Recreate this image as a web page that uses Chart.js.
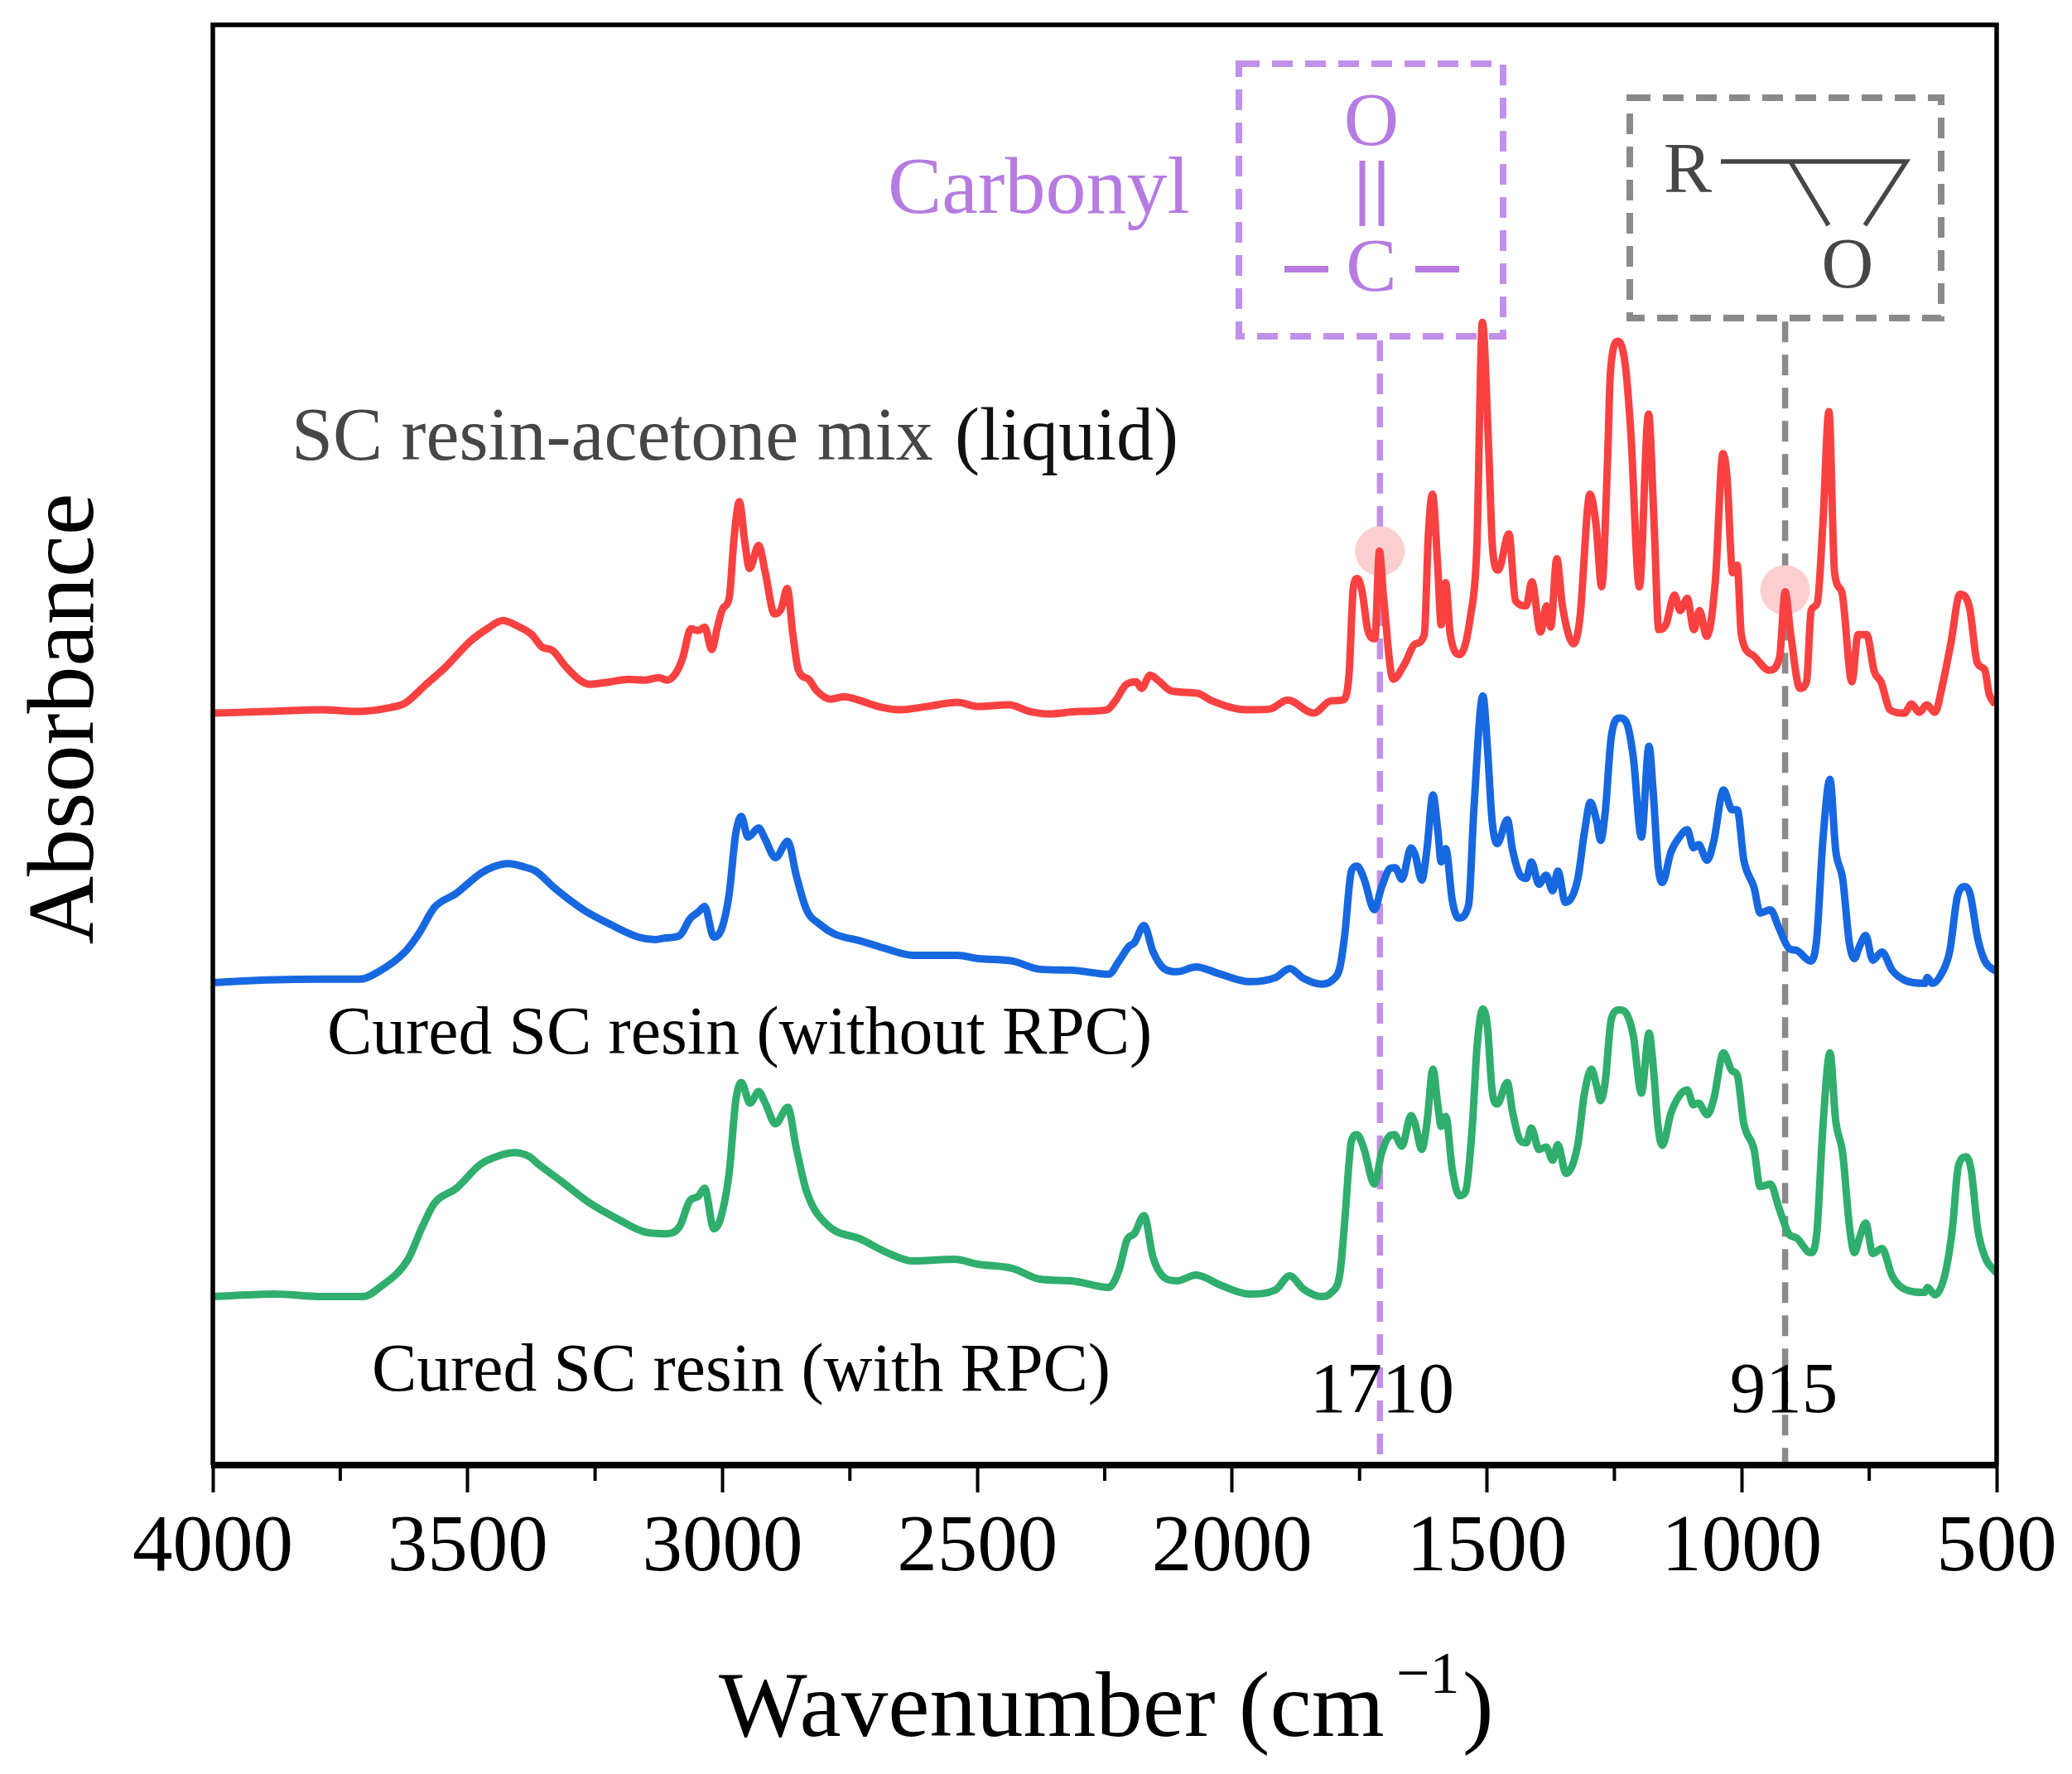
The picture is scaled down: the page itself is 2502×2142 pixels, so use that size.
<!DOCTYPE html>
<html lang="en">
<head>
    <meta charset="UTF-8">
    <title>FTIR spectra</title>
    <script src="https://cdn.jsdelivr.net/npm/chart.js@4.4.0/dist/chart.umd.min.js"></script>
    <style>
        html, body { margin: 0; padding: 0; background: #fff; }
        canvas { display: block; }
    </style>
</head>
<body>
    <canvas id="ftir-chart" width="2502" height="2142"></canvas>

    <script>
        // Wavenumber (cm-1) and absorbance (a.u., curves stacked)
        const redWavenumber = [3998,3893,3785,3718,3650,3623,3583,3543,3495,3462,3431,3401,3374,3354,3334,3307,3280,3260,3219,3185,3152,3125,3109,3091,3078,3062,3048,3035,3021,3010,2999,2987,2977,2967,2956,2947,2929,2916,2898,2885,2873,2862,2851,2831,2815,2788,2761,2734,2694,2653,2599,2539,2498,2438,2397,2357,2303,2246,2229,2209,2188,2178,2161,2144,2120,2068,2040,1971,1926,1891,1840,1806,1783,1771,1762,1754,1745,1734,1720,1711,1703,1684,1663,1640,1623,1615,1607,1597,1590,1581,1572,1553,1532,1520,1509,1497,1489,1478,1457,1444,1423,1412,1395,1383,1375,1363,1352,1330,1318,1298,1286,1275,1263,1258,1243,1229,1218,1201,1183,1172,1163,1149,1132,1121,1107,1094,1083,1069,1052,1037,1029,1018,1009,1001,978,946,926,915,904,886,873,864,852,841,829,818,804,784,772,755,740,727,709,681,667,652,637,621,607,590,572,553,538,523,515,502];
        const redAbsorbance = [910,912,914,912,917,922,944,966,997,1012,1022,1015,1005,990,986,966,950,945,948,951,950,953,950,959,977,1012,1010,1014,987,1014,1037,1049,1124,1166,1116,1085,1113,1080,1030,1036,1061,1006,962,951,937,927,930,926,918,914,918,923,918,920,912,909,912,914,925,944,948,940,956,949,937,934,925,914,915,926,910,925,926,954,1063,1073,1057,1011,1000,1106,1051,951,968,994,1005,1126,1175,1092,1017,1068,1005,981,1029,1109,1383,1235,1109,1083,1127,1046,1040,1069,1008,1040,1014,1097,1040,994,1023,1175,1138,1063,1224,1321,1360,1333,1252,1063,1272,1138,1011,1017,1053,1034,1049,1011,1034,1003,1069,1224,1195,1080,1089,1005,980,962,977,1057,1005,940,948,1034,1043,1138,1275,1080,1057,948,1005,1005,960,948,914,910,921,911,920,911,942,994,1054,1037,971,962,934,920];

        const blueWavenumber = [3998,3893,3785,3711,3675,3623,3596,3565,3522,3475,3450,3420,3390,3367,3327,3273,3219,3165,3132,3111,3084,3064,3048,3035,3017,3001,2987,2974,2963,2950,2929,2916,2896,2872,2855,2835,2808,2781,2727,2680,2626,2539,2498,2431,2377,2316,2242,2222,2202,2192,2173,2155,2134,2108,2071,2027,1966,1915,1887,1860,1825,1805,1788,1779,1766,1755,1741,1721,1707,1690,1680,1667,1649,1641,1628,1618,1606,1596,1590,1581,1568,1556,1536,1526,1508,1499,1490,1480,1460,1450,1435,1423,1413,1398,1384,1371,1361,1346,1322,1309,1297,1285,1277,1268,1256,1240,1226,1213,1197,1182,1174,1164,1156,1139,1120,1107,1095,1085,1068,1055,1036,1019,1009,996,976,964,944,927,907,893,865,853,841,827,816,802,789,779,769,757,743,725,705,681,641,636,626,606,592,577,562,552,537,523,500];
        const blueAbsorbance = [584,587,588,588,597,621,643,675,692,716,724,728,724,719,697,672,654,639,636,638,641,661,669,676,639,650,691,764,785,760,771,757,735,755,713,672,654,643,634,625,617,617,613,610,600,599,594,610,628,632,653,621,601,597,603,595,585,590,601,589,582,586,604,642,719,725,709,672,699,722,723,709,747,739,708,744,811,765,730,746,683,662,678,790,931,867,780,752,781,745,714,710,730,703,714,695,719,681,709,765,802,780,756,790,882,904,898,857,760,870,816,724,705,742,762,769,747,751,732,755,817,793,793,732,699,668,672,650,625,623,610,637,755,830,745,709,632,613,628,641,611,621,599,587,583,590,583,597,622,688,700,691,637,610,597];

        const greenWavenumber = [3998,3879,3785,3704,3675,3617,3590,3565,3522,3475,3440,3408,3378,3361,3313,3260,3206,3152,3111,3084,3064,3048,3035,3017,3004,2987,2974,2963,2946,2929,2916,2896,2872,2855,2835,2795,2727,2680,2626,2545,2498,2431,2377,2316,2242,2222,2206,2192,2173,2155,2128,2108,2071,2020,1966,1915,1887,1860,1825,1805,1788,1779,1766,1755,1741,1721,1707,1692,1682,1667,1649,1641,1628,1618,1606,1596,1590,1581,1568,1554,1542,1529,1519,1508,1499,1490,1480,1460,1450,1435,1423,1413,1398,1384,1371,1361,1345,1322,1309,1295,1285,1277,1268,1256,1240,1226,1213,1197,1182,1174,1164,1156,1139,1120,1107,1095,1085,1068,1055,1036,1019,1009,996,976,964,944,927,907,893,865,853,841,827,816,802,789,779,769,757,743,725,705,681,641,636,621,602,587,575,560,550,537,523,500];
        const greenAbsorbance = [204,207,204,204,214,249,287,317,335,364,374,378,373,364,342,317,298,282,280,289,320,325,335,286,298,353,441,463,438,452,438,413,433,383,331,291,273,258,247,249,243,238,225,223,215,236,273,280,302,251,225,223,230,217,207,212,229,213,204,209,234,296,392,400,382,340,377,398,400,386,423,413,382,413,479,433,410,422,357,326,331,408,510,552,530,454,437,463,428,393,390,408,382,385,369,388,353,387,449,479,459,441,464,540,551,546,520,450,523,484,408,387,426,449,454,436,438,424,443,499,477,472,413,382,337,340,311,279,275,257,280,408,499,418,377,290,257,275,293,256,262,229,213,209,215,206,229,285,362,373,357,285,252,232];

        // Marked bands and their guide lines
        const carbonylBand = 1710;
        const epoxyBand = 915;
        const carbonylLine = [1361, 0];
        const epoxyLine = [1384, 0];
        const bandMarkers = [1106, 1059];

        const majorTicks = [4000, 3500, 3000, 2500, 2000, 1500, 1000, 500];
        const minorTicks = [3750, 3250, 2750, 2250, 1750, 1250, 750];

        const SERIF = '"Liberation Serif", serif';
        const PURPLE = '#c191ea';
        const PURPLE_TEXT = '#b67be0';
        const GREY = '#8a8a8a';
        const DARK = '#464646';

        function zip(xs, ys) {
            return xs.map((x, i) => ({ x: x, y: ys[i] }));
        }

        function curve(xs, ys, color) {
            return {
                data: zip(xs, ys),
                borderColor: color,
                borderWidth: 9,
                pointRadius: 0,
                cubicInterpolationMode: 'monotone',
                borderJoinStyle: 'round',
                order: 1
            };
        }

        function guide(x, ys, color) {
            return {
                data: ys.map(y => ({ x: x, y: y })),
                borderColor: color,
                borderWidth: 7.5,
                borderDash: [25, 15],
                pointRadius: 0,
                order: 3
            };
        }

        function text(ctx, str, x, y, size, color, align) {
            ctx.font = size + 'px ' + SERIF;
            ctx.fillStyle = color;
            ctx.textAlign = align || 'left';
            ctx.textBaseline = 'alphabetic';
            ctx.fillText(str, x, y);
        }

        function stroke(ctx, color, width, points, dash) {
            ctx.strokeStyle = color;
            ctx.lineWidth = width;
            ctx.setLineDash(dash || []);
            ctx.beginPath();
            points.forEach((p, i) => i ? ctx.lineTo(p[0], p[1]) : ctx.moveTo(p[0], p[1]));
            ctx.stroke();
            ctx.setLineDash([]);
        }

        // Frame, minor ticks, axis titles, labels and the two structure boxes
        const decorations = {
            id: 'decorations',
            afterDatasetsDraw(chart) {
                const ctx = chart.ctx;
                const area = chart.chartArea;
                const xScale = chart.scales.x;
                ctx.save();

                // labels
                text(ctx, 'SC resin-acetone mix', 352, 555, 90, DARK);
                text(ctx, '(liquid)', 1153, 555, 90, '#111');
                text(ctx, 'Cured SC resin (without RPC)', 395, 1272, 81.5, '#000');
                text(ctx, 'Cured SC resin (with RPC)', 449, 1679, 81.5, '#000');
                text(ctx, '1710', 1669, 1705, 87, '#000', 'center');
                text(ctx, '915', 2154, 1705, 87, '#000', 'center');
                text(ctx, 'Carbonyl', 1072, 257, 98, PURPLE_TEXT);

                // carbonyl box
                ctx.strokeStyle = PURPLE;
                ctx.lineWidth = 8;
                ctx.setLineDash([25, 15]);
                ctx.strokeRect(1496, 77, 319, 329);
                ctx.setLineDash([]);
                text(ctx, 'O', 1656, 175, 92, PURPLE_TEXT, 'center');
                text(ctx, 'C', 1656, 351, 92, PURPLE_TEXT, 'center');
                stroke(ctx, PURPLE_TEXT, 7, [[1645, 194], [1645, 273]]);
                stroke(ctx, PURPLE_TEXT, 7, [[1668, 194], [1668, 273]]);
                stroke(ctx, PURPLE_TEXT, 8, [[1551, 325], [1604, 325]]);
                stroke(ctx, PURPLE_TEXT, 8, [[1709, 325], [1762, 325]]);

                // epoxide box
                ctx.strokeStyle = GREY;
                ctx.setLineDash([25, 15]);
                ctx.strokeRect(1968, 118, 376, 266);
                ctx.setLineDash([]);
                text(ctx, 'R', 2009, 232, 87, DARK);
                text(ctx, 'O', 2231, 347, 87, DARK, 'center');
                stroke(ctx, DARK, 5.5, [[2078, 195], [2302, 195], [2252, 272]]);
                stroke(ctx, DARK, 5.5, [[2162, 195], [2208, 272]]);

                // frame
                ctx.strokeStyle = '#000';
                ctx.lineWidth = 5.5;
                ctx.beginPath();
                ctx.moveTo(area.left, area.bottom);
                ctx.lineTo(area.left, area.top);
                ctx.lineTo(area.right, area.top);
                ctx.lineTo(area.right, area.bottom);
                ctx.stroke();
                stroke(ctx, '#000', 8, [[area.left - 2, area.bottom], [area.right + 2, area.bottom]]);

                // minor ticks
                minorTicks.forEach(v => {
                    const x = xScale.getPixelForValue(v);
                    stroke(ctx, '#000', 4, [[x, area.bottom], [x, area.bottom + 19]]);
                });

                // axis titles
                text(ctx, 'Wavenumber (cm', 868, 2096, 113, '#000');
                text(ctx, '\u22121', 1686, 2044, 72, '#000');
                text(ctx, ')', 1766, 2096, 113, '#000');
                ctx.translate(112, 868);
                ctx.rotate(-Math.PI / 2);
                text(ctx, 'Absorbance', 0, 0, 114, '#000', 'center');

                ctx.restore();
            }
        };

        new Chart(document.getElementById('ftir-chart'), {
            type: 'line',
            data: {
                datasets: [
                    curve(redWavenumber, redAbsorbance, '#f94141'),
                    curve(blueWavenumber, blueAbsorbance, '#1768e0'),
                    curve(greenWavenumber, greenAbsorbance, '#2fae6d'),
                    {
                        data: bandMarkers.map((y, i) => ({ x: [carbonylBand, epoxyBand][i], y: y })),
                        showLine: false,
                        pointRadius: 30,
                        pointBorderWidth: 0,
                        pointBackgroundColor: '#fbcfcf',
                        order: 2
                    },
                    guide(carbonylBand, carbonylLine, PURPLE),
                    guide(epoxyBand, epoxyLine, GREY)
                ]
            },
            options: {
                responsive: false,
                devicePixelRatio: 1,
                animation: false,
                layout: { padding: { left: 257, right: 91, top: 26, bottom: 0 } },
                plugins: { legend: { display: false }, tooltip: { enabled: false } },
                scales: {
                    x: {
                        type: 'linear',
                        reverse: true,
                        min: 500,
                        max: 4000,
                        afterFit(scale) { scale.height = 373; },
                        afterBuildTicks(scale) { scale.ticks = majorTicks.map(v => ({ value: v })); },
                        grid: { drawOnChartArea: false, tickLength: 33, tickWidth: 4, tickColor: '#000' },
                        border: { display: false },
                        ticks: {
                            autoSkip: false,
                            maxRotation: 0,
                            padding: 10,
                            color: '#000',
                            font: { family: SERIF, size: 97 },
                            callback: v => String(v)
                        }
                    },
                    y: { display: false, min: 0, max: 1743 }
                }
            },
            plugins: [decorations]
        });
    </script>
</body>
</html>
